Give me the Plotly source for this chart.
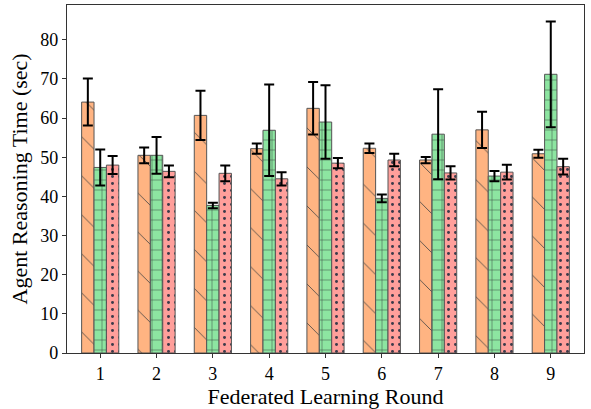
import plotly.graph_objects as go

rounds = [1, 2, 3, 4, 5, 6, 7, 8, 9]
tick_labels = ["1", "2", "3", "4", "5", "6", "7", "8", "9"]

orange_vals = [64.1, 50.5, 60.7, 52.2, 62.5, 52.3, 49.3, 57.0, 50.9]
orange_err = [6.0, 2.0, 6.3, 1.3, 6.7, 1.2, 0.8, 4.6, 1.0]

green_vals = [47.4, 50.5, 37.7, 56.9, 59.0, 39.5, 55.9, 45.2, 71.2]
green_err = [4.6, 4.7, 0.7, 11.7, 9.4, 1.0, 11.5, 1.3, 13.5]

pink_vals = [48.0, 46.4, 45.9, 44.5, 48.5, 49.3, 46.0, 46.2, 47.6]
pink_err = [2.3, 1.5, 2.0, 1.7, 1.3, 1.6, 1.7, 1.9, 2.0]

FONT = "Liberation Serif"

series = [
    (orange_vals, orange_err, "#FFB482", dict(shape="\\", size=27.6, solidity=0.03, fgcolor="#444444")),
    (green_vals, green_err, "#8DE5A1", dict(shape="+", size=10, solidity=0.1, fgcolor="#3a4a40")),
    (pink_vals, pink_err, "#FF9F9B", dict(shape=".", size=7, solidity=0.14, fgcolor="#3a3a4a")),
]

fig = go.Figure()
for vals, errs, col, pat in series:
    fig.add_trace(go.Bar(
        x=rounds, y=vals,
        marker=dict(color=col, line=dict(color="#555555", width=1),
                    pattern=dict(bgcolor=col, fillmode="replace", **pat)),
        error_y=dict(type="data", array=errs, visible=True, color="black", thickness=2, width=5),
        showlegend=False,
    ))

fig.update_layout(
    width=591, height=409,
    margin=dict(l=67, r=7, t=5, b=56),
    barmode="group", bargap=0.34, bargroupgap=0,
    plot_bgcolor="white", paper_bgcolor="white",
    font=dict(family=FONT, size=18, color="black"),
    annotations=[
        dict(text="Agent Reasoning Time (sec)", textangle=-90, xref="paper", yref="paper",
             x=0, y=0.5, xanchor="right", yanchor="middle", xshift=-34, showarrow=False,
             font=dict(size=22)),
    ],
)
fig.update_xaxes(
    range=[0.41, 9.59], tickvals=rounds, ticktext=tick_labels,
    showline=True, linecolor="#333333", linewidth=1.2, mirror=True,
    ticks="outside", ticklen=4, tickcolor="#333333", showgrid=False, zeroline=False,
    title=dict(text="Federated Learning Round", font=dict(size=22)),
    tickfont=dict(size=18), automargin=False,
)
fig.update_yaxes(
    range=[0, 88.9], tickvals=[0, 10, 20, 30, 40, 50, 60, 70, 80],
    showline=True, linecolor="#333333", linewidth=1.2, mirror=True,
    ticks="outside", ticklen=4, tickcolor="#333333", showgrid=False, zeroline=False,
    tickfont=dict(size=18), automargin=False,
)

fig.write_html("out.html", config={"displayModeBar": False},
               post_script="document.body.style.margin='0';")
